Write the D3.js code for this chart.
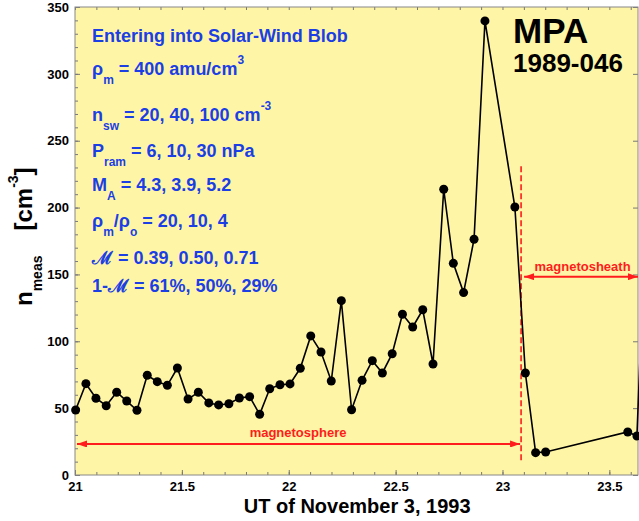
<html>

<head>
    <script src="https://d3js.org/d3.v7.min.js"></script>
    <title>MPA 1989-046 density, Nov 3 1993</title>
    <style>
        body { margin: 0; background: white; }
        text { font-family: "Liberation Sans", Arial, sans-serif; font-weight: bold; }
    </style>
</head>

<body>
    <div id="vis"></div>
</body>

<script>

    var utHours = [21.003, 21.051, 21.098, 21.146, 21.195, 21.242, 21.290, 21.338, 21.385, 21.432,
        21.479, 21.529, 21.577, 21.626, 21.672, 21.720, 21.769, 21.817, 21.864, 21.911,
        21.959, 22.006, 22.054, 22.103, 22.151, 22.199, 22.246, 22.294, 22.343, 22.391,
        22.438, 22.484, 22.532, 22.580, 22.627, 22.675, 22.725, 22.770, 22.818, 22.867,
        22.918, 23.058, 23.107, 23.155, 23.202, 23.586, 23.629, 23.676];
    var nMeas = [48.6, 68.3, 57.4, 51.8, 61.9, 55.3, 48.4, 74.6, 69.8, 67.1,
        80.0, 56.8, 61.9, 53.9, 52.4, 53.3, 57.6, 58.6, 45.4, 64.5,
        67.5, 68.1, 79.8, 104.0, 92.0, 70.3, 130.4, 48.8, 70.8, 85.5,
        76.3, 90.7, 120.2, 110.7, 123.6, 83.0, 213.7, 158.3, 136.4, 176.3,
        339.6, 200.4, 76.3, 16.7, 17.2, 32.2, 29.2, 220];

    var xTicks = [21, 21.5, 22, 22.5, 23, 23.5];
    var yTicks = [0, 50, 100, 150, 200, 250, 300, 350];

    // magnetopause crossing and the two region labels
    var boundaryUT = 23.087;
    var boundaryRange = [11, 231];
    var sphereArrowN = 23.2;
    var sheathArrowN = 148.3;

    // text block (segments: [text, "sub"/"sup"])
    var infoLines = [
        [["Entering into Solar-Wind Blob"]],
        [["\u03C1"], ["m", "sub"], [" = 400 amu/cm"], ["3", "sup"]],
        [["n"], ["sw", "sub"], [" = 20, 40, 100 cm"], ["-3", "sup"]],
        [["P"], ["ram", "sub"], [" = 6, 10, 30 nPa"]],
        [["M"], ["A", "sub"], [" = 4.3, 3.9, 5.2"]],
        [["\u03C1"], ["m", "sub"], ["/\u03C1"], ["o", "sub"], [" = 20, 10, 4"]],
        [["\u2133 = 0.39, 0.50, 0.71"]],
        [["1-\u2133 = 61%, 50%, 29%"]]
    ];

    var red = "#ff1c1c", blue = "#1b3fe4";

    var margin = { top: 7, right: 1, bottom: 46, left: 75 },
        width = 639 - margin.left - margin.right,
        height = 521 - margin.top - margin.bottom;

    var root = d3.select("#vis")
        .append("svg")
        .attr("width", 639)
        .attr("height", 521);

    var svg = root.append("g")
        .attr("transform", "translate(" + margin.left + "," + margin.top + ")");

    var x = d3.scaleLinear().domain([21, 23.634]).range([0, width]);
    var y = d3.scaleLinear().domain([0, 350]).range([height, 0]);

    svg.append("rect")
        .attr("width", width)
        .attr("height", height)
        .attr("fill", "#fff5a6");

    var minorX = d3.range(21, 23.65, 0.1);
    var minorY = d3.range(0, 351, 10);

    // bottom axis with labels, ticks pointing inward
    svg.append("g")
        .attr("class", "axis")
        .attr("transform", "translate(0," + height + ")")
        .call(d3.axisBottom(x).tickValues(minorX).tickSize(-3).tickFormat(""));
    svg.append("g")
        .attr("class", "axis")
        .attr("transform", "translate(0," + height + ")")
        .call(d3.axisBottom(x).tickValues(xTicks).tickSize(-5).tickPadding(7).tickFormat(d3.format("")));
    svg.append("g")
        .attr("class", "axis")
        .call(d3.axisTop(x).tickValues(minorX).tickSize(-3).tickFormat(""));

    svg.append("g")
        .attr("class", "axis")
        .call(d3.axisLeft(y).tickValues(minorY).tickSize(-3).tickFormat(""));
    svg.append("g")
        .attr("class", "axis")
        .call(d3.axisLeft(y).tickValues(yTicks).tickSize(-5).tickPadding(6).tickFormat(d3.format("")));
    svg.append("g")
        .attr("class", "axis")
        .attr("transform", "translate(" + width + ",0)")
        .call(d3.axisRight(y).tickValues(yTicks).tickSize(-5).tickFormat(""));

    svg.selectAll(".axis .domain").remove();
    svg.selectAll(".axis line").attr("stroke", "#777");
    svg.selectAll(".axis text")
        .style("font-size", "13px")
        .style("font-family", "'Liberation Sans', Arial, sans-serif")
        .style("font-weight", "bold")
        .attr("fill", "black");

    svg.append("rect")
        .attr("width", width)
        .attr("height", height)
        .attr("fill", "none")
        .attr("stroke", "#888")
        .attr("stroke-width", 1);

    // arrowheads
    var defs = root.append("defs");
    defs.append("marker")
        .attr("id", "arrow")
        .attr("viewBox", "0 0 10 7")
        .attr("refX", 10)
        .attr("refY", 3.5)
        .attr("markerWidth", 10)
        .attr("markerHeight", 7)
        .attr("markerUnits", "userSpaceOnUse")
        .attr("orient", "auto-start-reverse")
        .append("path")
        .attr("d", "M0,0 L10,3.5 L0,7 Z")
        .attr("fill", red);

    // boundary and region arrows
    svg.append("line")
        .attr("x1", x(boundaryUT)).attr("x2", x(boundaryUT))
        .attr("y1", y(boundaryRange[0])).attr("y2", y(boundaryRange[1]))
        .attr("stroke", red)
        .attr("stroke-width", 1.6)
        .attr("stroke-dasharray", "6,3");

    svg.append("line")
        .attr("x1", x(21) + 2).attr("x2", x(boundaryUT) - 1)
        .attr("y1", y(sphereArrowN)).attr("y2", y(sphereArrowN))
        .attr("stroke", red).attr("stroke-width", 2)
        .attr("marker-start", "url(#arrow)")
        .attr("marker-end", "url(#arrow)");
    svg.append("text")
        .attr("x", (x(21) + x(boundaryUT)) / 2)
        .attr("y", y(sphereArrowN) - 7)
        .attr("text-anchor", "middle")
        .style("font-size", "13px")
        .attr("fill", red)
        .text("magnetosphere");

    svg.append("line")
        .attr("x1", x(boundaryUT) + 3).attr("x2", width)
        .attr("y1", y(sheathArrowN)).attr("y2", y(sheathArrowN))
        .attr("stroke", red).attr("stroke-width", 2)
        .attr("marker-start", "url(#arrow)")
        .attr("marker-end", "url(#arrow)");
    svg.append("text")
        .attr("x", (x(boundaryUT) + width) / 2 + 3)
        .attr("y", y(sheathArrowN) - 6)
        .attr("text-anchor", "middle")
        .style("font-size", "13px")
        .attr("fill", red)
        .text("magnetosheath");

    // data
    var points = utHours.map(function (d, i) { return { t: d, n: nMeas[i] }; });

    svg.append("path")
        .datum(points)
        .attr("fill", "none")
        .attr("stroke", "black")
        .attr("stroke-width", 1.6)
        .attr("d", d3.line()
            .x(function (d) { return x(d.t); })
            .y(function (d) { return y(d.n); }));

    svg.selectAll("dot")
        .data(points)
        .enter()
        .append("circle")
        .attr("cx", function (d) { return x(d.t); })
        .attr("cy", function (d) { return y(d.n); })
        .attr("r", 4.5)
        .attr("fill", "black");

    // blue parameter block
    var infoY = [42, 75, 121, 157, 191, 227, 264, 292];
    infoLines.forEach(function (segs, i) {
        var t = root.append("text")
            .attr("x", 92)
            .attr("y", infoY[i])
            .attr("fill", blue)
            .style("font-size", "18px");
        var shift = 0;
        segs.forEach(function (s) {
            var target = s[1] == "sub" ? 9 : (s[1] == "sup" ? -11 : 0);
            t.append("tspan")
                .attr("dy", target - shift)
                .style("font-size", s[1] ? "12px" : null)
                .text(s[0]);
            shift = target;
        });
    });

    root.append("text")
        .attr("x", 513).attr("y", 43)
        .style("font-size", "35px")
        .text("MPA");
    root.append("text")
        .attr("x", 513).attr("y", 72)
        .style("font-size", "26px")
        .text("1989-046");

    // axis titles
    root.append("text")
        .attr("x", margin.left + x(22.32))
        .attr("y", 513)
        .attr("text-anchor", "middle")
        .style("font-size", "20px")
        .text("UT of November 3, 1993");

    var ylab = root.append("text")
        .attr("transform", "translate(32,306) rotate(-90)")
        .style("font-size", "24px");
    ylab.append("tspan").text("n");
    ylab.append("tspan").attr("dy", 10).style("font-size", "14px").text("meas");
    ylab.append("tspan").attr("dy", -10).attr("dx", 25).text("[cm");
    ylab.append("tspan").attr("dy", -14).style("font-size", "14px").text("-3");
    ylab.append("tspan").attr("dy", 14).text("]");

</script>

</html>
